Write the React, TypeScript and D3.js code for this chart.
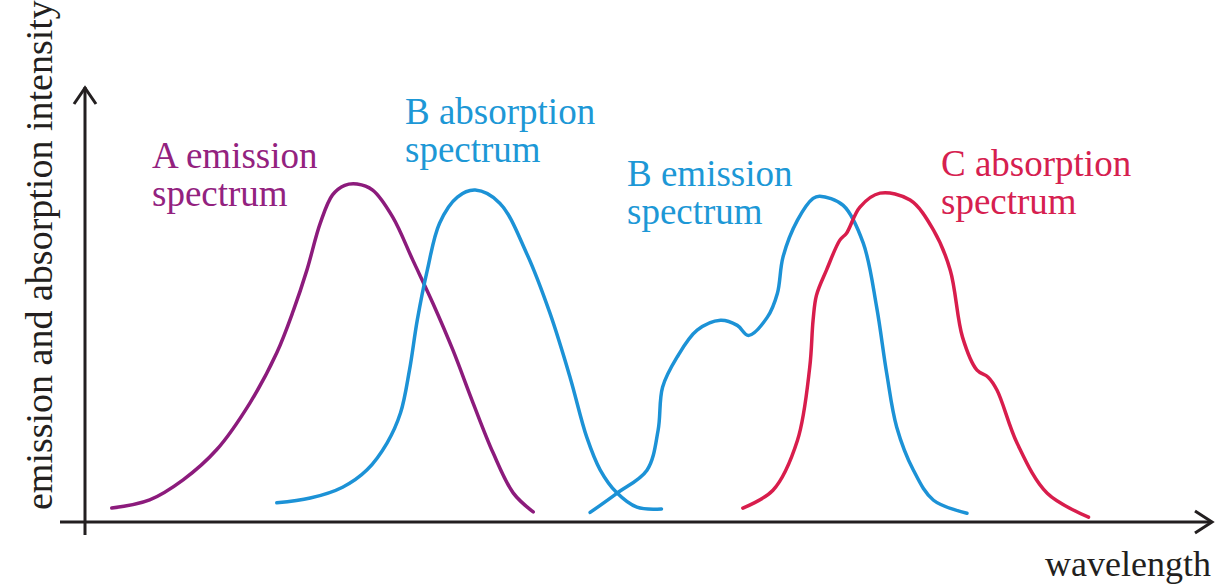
import React from "react";
import * as d3 from "d3";

type P = [number, number];

// wavelength (arbitrary units, 0-100) , intensity (% of axis height)
const aEmission: P[] = [
  [2.4, 3.2], [5.8, 5.1], [8.8, 9.7], [11.8, 16.6], [14.8, 27.4], [17.2, 38.9],
  [18.7, 48.7], [19.9, 57.9], [21.1, 68.7], [22.2, 75.2], [23.3, 77.4], [24.4, 77.7],
  [25.8, 76.3], [27.6, 70.1], [29.4, 60.2], [31.2, 50.3], [33.0, 39.5], [34.8, 27.4],
  [36.6, 15.9], [38.4, 6.7], [40.2, 2.3],
];
const bAbsorption: P[] = [
  [17.2, 4.4], [20.2, 5.5], [23.1, 8.0], [25.3, 12.0], [27.1, 18.2], [28.3, 25.1],
  [29.1, 34.9], [29.8, 46.4], [30.7, 57.9], [31.8, 68.7], [33.4, 74.7], [35.0, 76.3],
  [37.2, 73.3], [39.6, 61.8], [41.7, 48.0], [43.5, 33.3], [45.0, 19.5], [46.2, 12.0],
  [47.7, 6.7], [49.5, 3.4], [51.7, 3.0],
];
const bEmission: P[] = [
  [45.3, 2.2], [47.7, 6.6], [50.4, 11.9], [51.4, 21.1], [51.8, 31.0], [53.1, 37.9],
  [54.9, 44.1], [57.0, 46.4], [58.5, 45.2], [59.5, 42.9], [61.2, 47.1], [62.1, 52.6],
  [62.6, 60.9], [63.9, 69.4], [65.3, 74.4], [65.9, 74.9], [68.0, 72.8], [69.8, 64.1],
  [71.0, 49.4], [71.9, 34.2], [72.8, 21.8], [74.3, 11.9], [76.1, 5.0], [79.1, 2.0],
];
const cAbsorption: P[] = [
  [59.0, 3.2], [61.7, 7.3], [63.9, 18.8], [65.0, 35.6], [65.3, 46.4], [65.6, 52.1],
  [66.5, 57.9], [67.7, 64.8], [68.3, 66.4], [69.5, 72.4], [71.3, 75.6], [74.0, 74.0],
  [76.1, 67.1], [77.6, 57.9], [78.7, 42.5], [80.0, 34.9], [81.0, 33.3], [81.8, 30.3],
  [83.6, 18.1], [86.3, 6.6], [90.0, 1.1],
];

const seriesNames = ["A emission", "B absorption", "B emission", "C absorption"];
const labelLine2 = "spectrum";
const yAxisTitle = "emission and absorption intensity";
const xAxisTitle = "wavelength";

const W = 1222;
const H = 586;
const FONT = "Liberation Serif, Times New Roman, DejaVu Serif, serif";

export default function App() {
  const x = d3.scaleLinear().domain([0, 100]).range([85, 1200]);
  const y = d3.scaleLinear().domain([0, 100]).range([522, 87]);
  const line = d3
    .line<P>()
    .x((d) => x(d[0]))
    .y((d) => y(d[1]))
    .curve(d3.curveCatmullRom.alpha(0.5));

  const series = [
    { data: aEmission, color: "#8c1b7c", label: seriesNames[0], lx: 152, ly: 168, tc: "#93227f" },
    { data: bAbsorption, color: "#1c92d6", label: seriesNames[1], lx: 405, ly: 124, tc: "#1d98d6" },
    { data: bEmission, color: "#1c92d6", label: seriesNames[2], lx: 627, ly: 186, tc: "#1d98d6" },
    { data: cAbsorption, color: "#d81d4c", label: seriesNames[3], lx: 941, ly: 176, tc: "#d6204f" },
  ];

  const x0 = x.range()[0];
  const x1 = x.range()[1];
  const y0 = y.range()[0];
  const y1 = y.range()[1];
  const axisColor = "#231f20";
  const textStyle = { fontFamily: FONT };

  return (
    <svg
      width={W}
      height={H}
      style={{ position: "absolute", left: 0, top: 0, background: "#fff" }}
    >
      {/* axes */}
      <line x1={x0} y1={y0 + 13} x2={x0} y2={y1} stroke={axisColor} strokeWidth={3} />
      <line x1={x0 - 25} y1={y0} x2={x1 + 11} y2={y0} stroke={axisColor} strokeWidth={3} />
      <polyline
        points={`${x0 - 11},${y1 + 17} ${x0},${y1 + 1} ${x0 + 11},${y1 + 17}`}
        fill="none"
        stroke={axisColor}
        strokeWidth={3}
      />
      <polyline
        points={`${x1 - 5},${y0 - 11} ${x1 + 12},${y0} ${x1 - 5},${y0 + 11}`}
        fill="none"
        stroke={axisColor}
        strokeWidth={3}
      />

      {/* curves */}
      {series.map((s, i) => (
        <path key={i} d={line(s.data) || ""} fill="none" stroke={s.color} strokeWidth={3.5} strokeLinecap="round" strokeLinejoin="round" />
      ))}

      {/* labels */}
      {series.map((s, i) => (
        <text key={"t" + i} x={s.lx} y={s.ly} fill={s.tc} fontSize={37} style={textStyle}>
          <tspan x={s.lx}>{s.label}</tspan>
          <tspan x={s.lx} dy={38}>{labelLine2}</tspan>
        </text>
      ))}

      {/* axis titles */}
      <text x={1045} y={576} fontSize={36} fill={axisColor} style={textStyle}>
        {xAxisTitle}
      </text>
      <text transform="translate(52,510) rotate(-90)" fontSize={38} fill={axisColor} style={textStyle}>
        {yAxisTitle}
      </text>
    </svg>
  );
}
